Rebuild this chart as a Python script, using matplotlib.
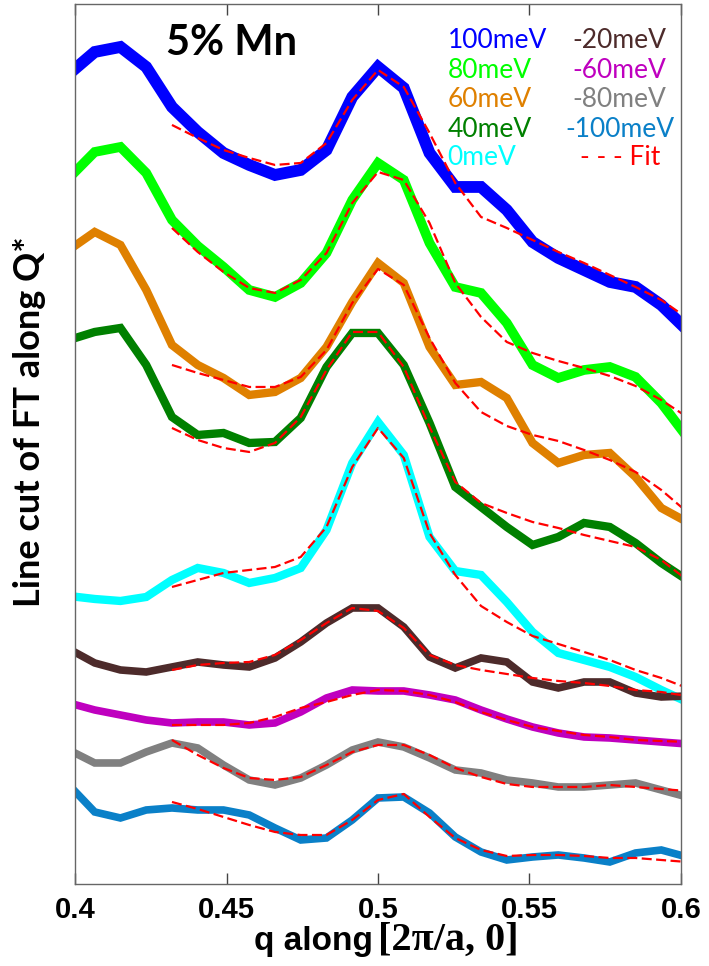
import numpy as np
import matplotlib.pyplot as plt

# q grid of the line cuts (units of 2pi/a)
q = [0.398, 0.4065, 0.415, 0.4235, 0.432, 0.4405, 0.449, 0.4575, 0.466, 0.4745,
     0.483, 0.4915, 0.5, 0.5085, 0.517, 0.5255, 0.534, 0.5425, 0.551, 0.5595,
     0.568, 0.5765, 0.585, 0.5935, 0.602]
q_fit = q[4:]

labels = ["100meV", "80meV", "60meV", "40meV", "0meV",
          "-20meV", "-60meV", "-80meV", "-100meV"]
colors = ["#0000ff", "#00ff00", "#df8000", "#008000", "#00ffff",
          "#4d2b2b", "#bf00bf", "#808080", "#0a80c8"]
widths = [8.5, 7, 6, 6, 6, 5.5, 5.5, 5.5, 5.5]

# line cuts (offset for clarity, a.u.)
cut_100 = [8.10, 8.32, 8.37, 8.17, 7.77, 7.52, 7.31, 7.19, 7.09, 7.14, 7.34, 7.87, 8.17,
           7.96, 7.31, 6.97, 6.97, 6.74, 6.42, 6.26, 6.14, 6.02, 5.97, 5.79, 5.54]
cut_80 = [7.06, 7.32, 7.37, 7.11, 6.64, 6.38, 6.17, 5.94, 5.87, 6.01, 6.31, 6.84, 7.21,
          7.04, 6.41, 5.97, 5.91, 5.61, 5.19, 5.06, 5.14, 5.17, 5.07, 4.81, 4.47]
cut_60 = [6.34, 6.52, 6.39, 5.94, 5.39, 5.19, 5.06, 4.89, 4.92, 5.06, 5.37, 5.82, 6.21,
          6.01, 5.37, 4.99, 5.02, 4.86, 4.41, 4.21, 4.29, 4.31, 4.07, 3.76, 3.62]
cut_40 = [5.44, 5.52, 5.56, 5.19, 4.67, 4.49, 4.51, 4.41, 4.42, 4.66, 5.17, 5.51, 5.51,
          5.19, 4.61, 3.97, 3.77, 3.57, 3.39, 3.47, 3.61, 3.57, 3.41, 3.21, 3.04]
cut_0 = [2.88, 2.85, 2.83, 2.87, 3.04, 3.16, 3.11, 3.01, 3.06, 3.16, 3.54, 4.21, 4.62,
         4.29, 3.47, 3.13, 3.09, 2.82, 2.52, 2.31, 2.24, 2.17, 2.07, 1.94, 1.82]
cut_m20 = [2.35, 2.21, 2.14, 2.12, 2.17, 2.22, 2.19, 2.17, 2.26, 2.42, 2.61, 2.76, 2.76,
           2.57, 2.27, 2.16, 2.26, 2.22, 2.02, 1.96, 2.02, 2.02, 1.91, 1.87, 1.88]
cut_m60 = [1.81, 1.74, 1.69, 1.64, 1.61, 1.62, 1.62, 1.59, 1.61, 1.72, 1.86, 1.94, 1.93,
           1.93, 1.89, 1.84, 1.74, 1.65, 1.57, 1.51, 1.47, 1.46, 1.44, 1.42, 1.40]
cut_m80 = [1.34, 1.21, 1.21, 1.32, 1.41, 1.36, 1.19, 1.04, 0.99, 1.06, 1.19, 1.34, 1.42,
           1.37, 1.26, 1.14, 1.11, 1.04, 1.01, 0.97, 0.97, 0.99, 1.01, 0.94, 0.87]
cut_m100 = [0.99, 0.72, 0.66, 0.74, 0.76, 0.74, 0.74, 0.69, 0.56, 0.44, 0.46, 0.64, 0.86,
            0.87, 0.71, 0.47, 0.32, 0.24, 0.27, 0.29, 0.26, 0.22, 0.31, 0.34, 0.27]

# fits
fit_100 = [7.59, 7.46, 7.34, 7.26, 7.19, 7.21, 7.41, 7.84, 8.14, 7.97, 7.51,
           7.01, 6.67, 6.56, 6.44, 6.32, 6.21, 6.09, 5.97, 5.84, 5.66]
fit_80 = [6.56, 6.32, 6.12, 5.96, 5.91, 6.04, 6.31, 6.81, 7.12, 7.04, 6.61,
          6.01, 5.67, 5.42, 5.31, 5.23, 5.16, 5.08, 4.98, 4.84, 4.67]
fit_60 = [5.19, 5.11, 5.04, 4.97, 4.97, 5.07, 5.34, 5.81, 6.15, 5.99, 5.46,
          5.01, 4.72, 4.58, 4.49, 4.43, 4.34, 4.24, 4.12, 3.94, 3.72]
fit_40 = [4.56, 4.44, 4.36, 4.32, 4.41, 4.67, 5.14, 5.52, 5.52, 5.17, 4.57,
          4.02, 3.81, 3.71, 3.62, 3.56, 3.49, 3.43, 3.37, 3.24, 3.04]
fit_0 = [2.97, 3.04, 3.11, 3.14, 3.17, 3.27, 3.57, 4.17, 4.56, 4.26, 3.51,
         3.09, 2.78, 2.62, 2.48, 2.40, 2.32, 2.24, 2.14, 2.06, 1.96]
fit_m20 = [2.14, 2.19, 2.21, 2.22, 2.29, 2.44, 2.61, 2.76, 2.73, 2.56, 2.29,
           2.19, 2.14, 2.10, 2.06, 2.03, 2.01, 1.98, 1.94, 1.92, 1.88]
fit_m60 = [1.59, 1.59, 1.59, 1.61, 1.67, 1.76, 1.82, 1.89, 1.94, 1.93, 1.89,
           1.82, 1.72, 1.64, 1.57, 1.53, 1.49, 1.47, 1.44, 1.43, 1.42]
fit_m80 = [1.44, 1.29, 1.16, 1.06, 1.04, 1.07, 1.19, 1.32, 1.39, 1.39, 1.29,
           1.16, 1.07, 1.00, 0.97, 0.97, 0.97, 0.99, 0.97, 0.95, 0.93]
fit_m100 = [0.82, 0.75, 0.67, 0.59, 0.52, 0.49, 0.49, 0.64, 0.84, 0.90, 0.67,
            0.46, 0.34, 0.28, 0.29, 0.29, 0.28, 0.26, 0.26, 0.24, 0.22]

cuts = [cut_100, cut_80, cut_60, cut_40, cut_0, cut_m20, cut_m60, cut_m80, cut_m100]
fits = [fit_100, fit_80, fit_60, fit_40, fit_0, fit_m20, fit_m60, fit_m80, fit_m100]

#%%
fig = plt.figure(figsize=(7.09, 9.66), dpi=100)
ax = fig.add_axes([0.1058, 0.0849, 0.8547, 0.911])

for c, col, lw in zip(cuts, colors, widths):
  ax.plot(q, c, color=col, lw=lw, solid_joinstyle="miter")
for f in fits:
  ax.plot(q_fit, f, color="red", lw=1.6, ls=(0, (4.5, 2)))

ax.set_xlim(0.4, 0.6)
ax.set_ylim(0, 8.8)
ax.set_xticks([0.4, 0.45, 0.5, 0.55, 0.6])
ax.set_xticklabels(["0.4", "0.45", "0.5", "0.55", "0.6"])
ax.set_yticks([])
ax.tick_params(axis="x", direction="in", top=True, length=8, width=1, color="#444444",
               pad=9, labelsize=21)
for lab in ax.get_xticklabels():
  lab.set_family("Liberation Sans")
  lab.set_weight("bold")
for s in ax.spines.values():
  s.set_color("#666666")
  s.set_linewidth(1)

# x label: sans part + serif part
fig.text(0.526, 0.0166, "q along", ha="right", va="baseline", fontsize=24,
         family="Liberation Sans", weight="bold")
fig.text(0.533, 0.0166, "[2\u03c0/a, 0]", ha="left", va="baseline", fontsize=29,
         family="Liberation Serif", weight="bold")
fig.text(0.041, 0.563, "Line cut of FT along Q*", rotation=90, ha="center", va="center",
         fontsize=26, family="Lato", weight="bold")

ax.text(0.259, 0.977, "5% Mn", transform=ax.transAxes, ha="center", va="top",
        fontsize=30, family="Lato", weight="bold")

# colored text legend
left_x = 0.615
right_x = 0.899
row_y = [0.958, 0.924, 0.891, 0.857, 0.825]
for i in range(5):
  ax.text(left_x, row_y[i], labels[i], color=colors[i], transform=ax.transAxes,
          ha="left", va="center", fontsize=19, family="Lato")
for i in range(4):
  ax.text(right_x, row_y[i], labels[5 + i], color=colors[5 + i], transform=ax.transAxes,
          ha="center", va="center", fontsize=19, family="Lato")
ax.text(right_x, row_y[4], "- - - Fit", color="red", transform=ax.transAxes,
        ha="center", va="center", fontsize=19, family="Lato")

plt.savefig("out.png", dpi=100)
